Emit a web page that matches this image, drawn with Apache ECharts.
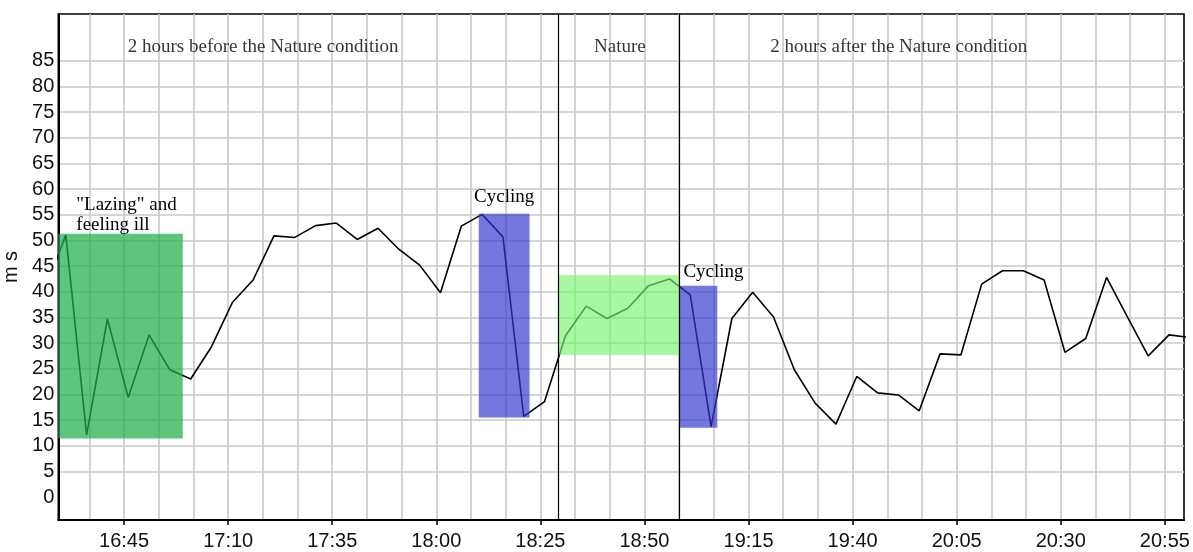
<!DOCTYPE html>
<html><head><meta charset="utf-8">
<script src="https://cdn.jsdelivr.net/npm/echarts@6/dist/echarts.min.js"></script>
<style>html,body{margin:0;padding:0;background:#fff}#c{width:1193px;height:552px}</style>
</head><body><div id="c"></div>
<script>
// ---- data ----
const times = ['16:26','16:31','16:36','16:41','16:46','16:51','16:56','17:01','17:06','17:11','17:16','17:21','17:26','17:31','17:36','17:41','17:46','17:51','17:56','18:01','18:06','18:11','18:16','18:21','18:26','18:31','18:36','18:41','18:46','18:51','18:56','19:01','19:06','19:11','19:16','19:21','19:26','19:31','19:36','19:41','19:46','19:51','19:56','20:01','20:06','20:11','20:16','20:21','20:26','20:31','20:36','20:41','20:46','20:51','20:56','21:01'];
const msValues = [40.2,51.1,12.1,34.7,19.4,31.6,24.8,23.0,29.3,37.9,42.3,50.9,50.6,52.9,53.4,50.2,52.4,48.3,45.2,39.8,52.8,55.1,50.7,15.7,18.6,31.4,37.2,34.8,36.8,41.2,42.5,39.4,13.7,34.8,39.9,35.1,24.8,18.3,14.2,23.5,20.3,19.9,16.8,27.9,27.7,41.5,44.1,44.1,42.3,28.2,30.9,42.8,35.1,27.5,31.6,31.1];
const xTickLabels = ['16:45','17:10','17:35','18:00','18:25','18:50','19:15','19:40','20:05','20:30','20:55'];
const yTickLabels = [0,5,10,15,20,25,30,35,40,45,50,55,60,65,70,75,80,85];
const yGridValues = [5,10,15,20,25,30,35,40,45,50,55,60,65,70,75,80,85];
const axisStart = '16:29:12', axisEnd = '20:59:36';
const yMin = -4.48, yMax = 94.15;
const periodLabels = ['2 hours before the Nature condition','Nature','2 hours after the Nature condition'];
const periodLabelTimes = ['17:18:24','18:44:06','19:51:06'];
const periodLabelValues = [87.7,87.7,87.7];
const natureBounds = ['18:29:18','18:58:24'];
const activityNames = ['"Lazing" and\nfeeling ill','Cycling','','Cycling'];
const activityStart = ['16:29:12','18:10:12','18:29:18','18:58:24'];
const activityEnd = ['16:59:06','18:22:24','18:58:24','19:07:30'];
const activityLow = [11.4,15.5,27.7,13.5];
const activityHigh = [51.3,55.2,43.3,41.2];

// ---- helpers ----
function toMin(s){const p=s.split(':').map(Number);return p[0]*60+p[1]+(p[2]||0)/60;}
function fmt(v){const m=Math.round(v);const h=Math.floor(m/60),mm=m%60;return h+':'+(mm<10?'0':'')+mm;}
const xMin=toMin(axisStart), xMax=toMin(axisEnd);
const labelVals=xTickLabels.map(toMin);
const sub=(labelVals[1]-labelVals[0])/3;
const xGrid=[];
for(let v=labelVals[0];v>=xMin;v-=sub) xGrid.unshift(v);
for(let v=labelVals[0]+sub;v<=xMax;v+=sub) xGrid.push(v);

const areaStyles=[
  {color:'rgba(30,175,75,0.72)'},
  {color:'rgba(50,55,205,0.68)'},
  {color:'rgba(120,245,110,0.65)'},
  {color:'rgba(50,55,205,0.68)'}
];
const areaLabels=[
  {position:[18,-39],lineHeight:20,align:'left'},
  {position:'top',distance:7},
  {show:false},
  {position:[4,-23],align:'left'}
];
const serif='"Liberation Serif","Times New Roman",serif';
const sans='"Liberation Sans",Arial,sans-serif';

const chart=echarts.init(document.getElementById('c'),null,{renderer:'canvas'});
chart.setOption({
  animation:false,
  grid:{left:58.3,right:9,top:14,bottom:32,show:true,borderColor:'#000',borderWidth:1.6,containLabel:false,outerBoundsMode:'none'},
  xAxis:[{
    type:'value',min:xMin,max:xMax,position:'bottom',
    axisLine:{show:true,onZero:false,lineStyle:{color:'#000',width:2}},
    axisTick:{show:false,customValues:xGrid},
    axisLabel:{show:false},
    splitLine:{show:true,lineStyle:{color:'#c8c8c8',width:1.6}}
  },{
    type:'value',min:xMin,max:xMax,position:'bottom',
    axisLine:{show:false,onZero:false},
    axisTick:{show:true,customValues:labelVals,length:5,lineStyle:{color:'#000',width:1.5}},
    axisLabel:{show:true,customValues:labelVals,formatter:fmt,fontSize:20,color:'#111',fontFamily:sans,margin:11},
    splitLine:{show:false}
  }],
  yAxis:{
    type:'value',min:yMin,max:yMax,
    name:'m s',nameLocation:'middle',nameGap:29,nameTextStyle:{fontSize:20,color:'#111',fontFamily:sans},
    axisLine:{show:true,onZero:false,lineStyle:{color:'#000',width:2}},
    axisTick:{show:false,customValues:yGridValues},
    axisLabel:{show:true,customValues:yTickLabels,fontSize:20,color:'#111',fontFamily:sans,margin:4},
    splitLine:{show:true,lineStyle:{color:'#c8c8c8',width:1.6}}
  },
  series:[
    {
      type:'line',name:'ms',xAxisIndex:0,z:2,
      data:times.map((t,i)=>[toMin(t),msValues[i]]),
      symbol:'none',lineStyle:{color:'#000',width:1.6},
      markLine:{silent:true,symbol:['none','none'],label:{show:false},z:6,
        lineStyle:{color:'#000',width:1.2,type:'solid'},
        data:natureBounds.map(t=>({xAxis:toMin(t)}))}
    },
    {
      type:'line',name:'activities',xAxisIndex:0,z:4,data:[],
      markArea:{silent:true,z:4,
        data:activityNames.map((n,i)=>[
          {name:n,xAxis:toMin(activityStart[i]),yAxis:activityHigh[i],itemStyle:areaStyles[i],
           label:Object.assign({show:true,color:'#000',fontSize:19,fontFamily:serif},areaLabels[i])},
          {xAxis:toMin(activityEnd[i]),yAxis:activityLow[i]}
        ])}
    },
    {
      type:'scatter',name:'periods',xAxisIndex:0,z:7,symbolSize:0,silent:true,
      data:periodLabels.map((n,i)=>({name:n,value:[toMin(periodLabelTimes[i]),periodLabelValues[i]]})),
      label:{show:true,position:'inside',formatter:'{b}',color:'#000',fontSize:19,fontFamily:serif}
    }
  ]
});
</script>
</body></html>
